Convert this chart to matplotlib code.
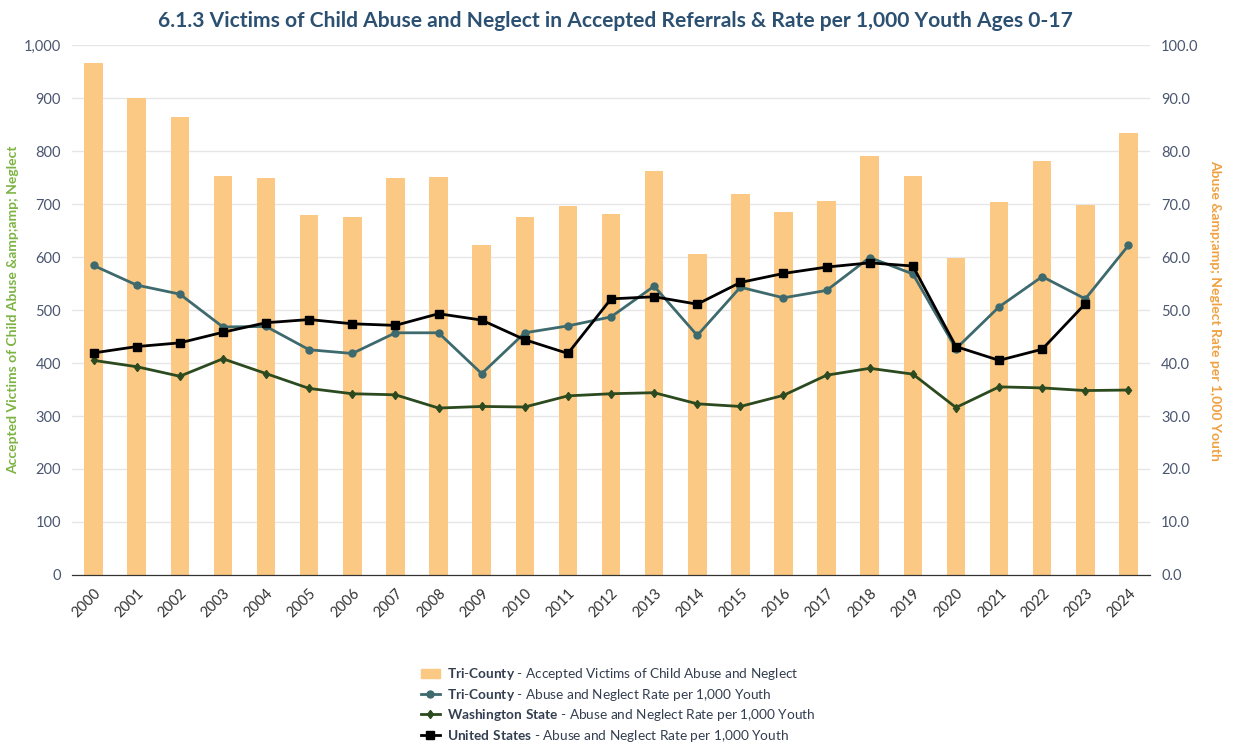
import matplotlib
matplotlib.use("Agg")
import matplotlib.pyplot as plt
from matplotlib.ticker import FuncFormatter, MultipleLocator
from matplotlib.lines import Line2D
from matplotlib.patches import Patch

plt.rcParams['font.family'] = ['Lato', 'DejaVu Sans']
plt.rcParams['mathtext.fontset'] = 'custom'
plt.rcParams['mathtext.rm'] = 'Lato'
plt.rcParams['mathtext.bf'] = 'Lato:bold'

# data
years = [str(y) for y in range(2000, 2025)]
victims = [967, 900, 864, 753, 750, 679, 675, 750, 751, 623, 675, 696, 681,
           762, 606, 719, 685, 706, 791, 753, 598, 704, 781, 698, 834]
tri_rate = [58.4, 54.7, 53.0, 46.8, 46.9, 42.5, 41.8, 45.7, 45.7, 38.0, 45.7, 47.0, 48.7,
            54.5, 45.2, 54.3, 52.3, 53.7, 59.9, 56.8, 42.7, 50.6, 56.3, 52.1, 62.2]
wa_rate = [40.5, 39.3, 37.5, 40.8, 38.0, 35.2, 34.2, 34.0, 31.5, 31.8, 31.7, 33.8, 34.2,
           34.4, 32.3, 31.8, 33.9, 37.7, 39.0, 37.9, 31.6, 35.5, 35.3, 34.8, 34.9]
us_rate = [41.9, 43.1, 43.8, 45.8, 47.6, 48.2, 47.4, 47.1, 49.3, 48.1, 44.4, 41.8, 52.1,
           52.5, 51.1, 55.2, 56.9, 58.1, 58.9, 58.3, 43.1, 40.5, 42.6, 51.2, None]

bar_color = '#fcc984'
tri_color = '#3e6a6e'
wa_color = '#2c4a1f'
us_color = '#000000'
tick_color = '#4a5670'

fig = plt.figure(figsize=(12.33, 7.48), dpi=100)
ax = fig.add_axes([0.0584, 0.2313, 0.8743, 0.7085])
ax2 = ax.twinx()

x = list(range(len(years)))
ax.bar(x, victims, width=0.43, color=bar_color, zorder=2)
ax.set_xlim(-0.5, len(years) - 0.5)
ax.set_ylim(0, 1000)
ax.yaxis.set_major_locator(MultipleLocator(100))
ax.yaxis.set_major_formatter(FuncFormatter(lambda v, p: f"{int(v):,}"))
ax.grid(axis='y', color='#e6e6e6', linewidth=1, zorder=0)
ax.set_axisbelow(True)

ax2.plot(x, tri_rate, color=tri_color, lw=2, marker='o', ms=5, zorder=3)
ax2.plot(x, wa_rate, color=wa_color, lw=2, marker='d', ms=4.5, zorder=3)
us_x = [i for i, v in zip(x, us_rate) if v is not None]
us_y = [v for v in us_rate if v is not None]
ax2.plot(us_x, us_y, color=us_color, lw=2, marker='s', ms=5.5, zorder=4)
ax2.set_ylim(0, 100)
ax2.yaxis.set_major_locator(MultipleLocator(10))
ax2.yaxis.set_major_formatter(FuncFormatter(lambda v, p: f"{v:.1f}"))

for a in (ax, ax2):
    for s in ('top', 'left', 'right'):
        a.spines[s].set_visible(False)
    a.spines['bottom'].set_color('#333333')
    a.tick_params(axis='y', length=0, labelsize=10.5, labelcolor=tick_color, pad=8)

ax.set_xticks(x)
ax.set_xticklabels(years, rotation=45, ha='right', rotation_mode='anchor')
ax.tick_params(axis='x', length=0, labelsize=10.5, labelcolor='#333333', pad=8)

ax.set_ylabel('Accepted Victims of Child Abuse &amp;amp; Neglect', color='#7cb342',
              fontsize=10, fontweight='bold', labelpad=3)
ax2.set_ylabel('Abuse &amp;amp; Neglect Rate per 1,000 Youth', color='#f0a040',
               fontsize=10, fontweight='bold', rotation=270, labelpad=16)

fig.text(0.499, 0.985, '6.1.3 Victims of Child Abuse and Neglect in Accepted Referrals & Rate per 1,000 Youth Ages 0-17',
         ha='center', va='top', fontsize=15.1, fontweight='bold', color='#2b5072')

handles = [
    Patch(color=bar_color),
    Line2D([], [], color=tri_color, lw=2, marker='o', ms=5),
    Line2D([], [], color=wa_color, lw=2, marker='d', ms=4.5),
    Line2D([], [], color=us_color, lw=2, marker='s', ms=5.5),
]
labels = [
    r'$\mathbf{Tri}$-$\mathbf{County}$ - Accepted Victims of Child Abuse and Neglect',
    r'$\mathbf{Tri}$-$\mathbf{County}$ - Abuse and Neglect Rate per 1,000 Youth',
    r'$\mathbf{Washington\ State}$ - Abuse and Neglect Rate per 1,000 Youth',
    r'$\mathbf{United\ States}$ - Abuse and Neglect Rate per 1,000 Youth',
]
leg = fig.legend(handles, labels, loc='upper left', frameon=False, fontsize=9.8,
                 handlelength=1.4, handletextpad=0.5, labelspacing=0.32, borderaxespad=0)
leg.set_bbox_to_anchor((0.337, 1 - 661 / 748), transform=fig.transFigure)
for t in leg.get_texts():
    t.set_color('#333f50')

fig.savefig('out.png', dpi=100)
